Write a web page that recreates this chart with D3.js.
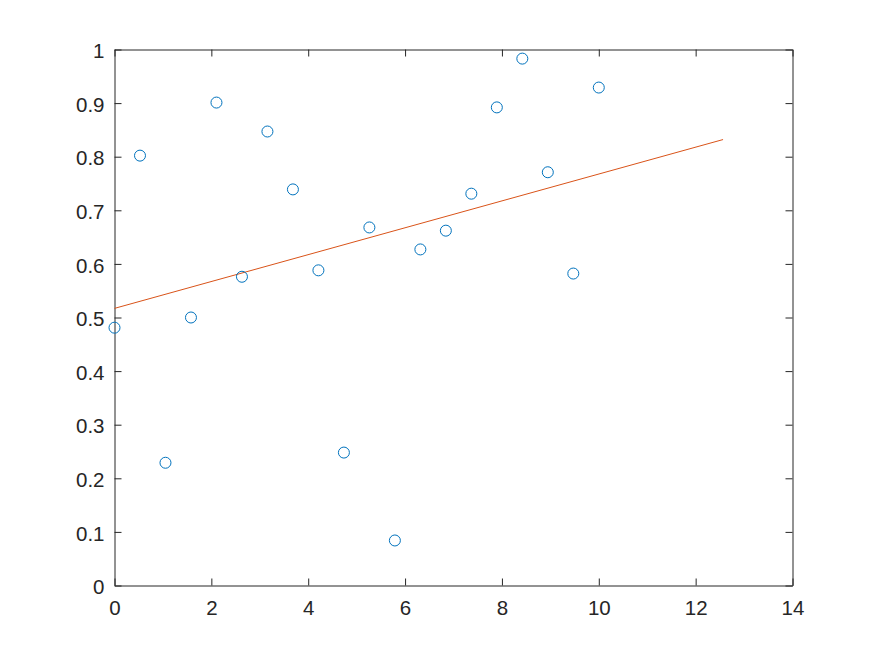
<!DOCTYPE html>
<html><head><meta charset="utf-8">
<script src="https://cdn.jsdelivr.net/npm/d3@7"></script>
<style>body{margin:0;background:#fff}svg{display:block}svg text{font-family:'Liberation Sans',Arial,sans-serif;font-size:20.5px;fill:#262626}</style>
</head><body>
<script>
const xValues = [0, 0.5263, 1.0526, 1.5789, 2.1053, 2.6316, 3.1579, 3.6842, 4.2105, 4.7368, 5.2632, 5.7895, 6.3158, 6.8421, 7.3684, 7.8947, 8.4211, 8.9474, 9.4737, 10];
const yValues = [0.481, 0.802, 0.229, 0.500, 0.901, 0.576, 0.847, 0.739, 0.588, 0.248, 0.668, 0.084, 0.627, 0.662, 0.731, 0.892, 0.983, 0.771, 0.582, 0.929];
const fitX = [0, 12.566];
const fitY = [0.517, 0.832];
const xTicks = [0, 2, 4, 6, 8, 10, 12, 14];
const yTicks = [0, 0.1, 0.2, 0.3, 0.4, 0.5, 0.6, 0.7, 0.8, 0.9, 1];

const W = 875, H = 656;
const L = 114.5, R = 792.5, T = 49.5, B = 585.5;
const svg = d3.select("body").append("svg").attr("width", W).attr("height", H);
const x = d3.scaleLinear().domain([0, 14]).range([L, R]);
const y = d3.scaleLinear().domain([0, 1]).range([B, T]);
const tickLen = 7;
const axisColor = "#262626";
const font = "Liberation Sans, Arial, sans-serif";

function styleAxis(g) {
  g.attr("font-size", 20.5).attr("font-family", font);
  g.selectAll("path").attr("stroke", axisColor).attr("stroke-width", 1);
  g.selectAll("line").attr("stroke", axisColor).attr("stroke-width", 1);
  g.selectAll("text").attr("fill", axisColor);
}
const fmt = d => String(d);
svg.append("g").attr("transform", `translate(0,${B})`)
  .call(d3.axisBottom(x).tickValues(xTicks).tickFormat(fmt).tickSizeInner(-tickLen).tickSizeOuter(0).tickPadding(14.5))
  .call(styleAxis);
svg.append("g").attr("transform", `translate(0,${T})`)
  .call(d3.axisTop(x).tickValues(xTicks).tickFormat("").tickSizeInner(-tickLen).tickSizeOuter(0))
  .call(styleAxis);
svg.append("g").attr("transform", `translate(${L},0)`)
  .call(d3.axisLeft(y).tickValues(yTicks).tickFormat(fmt).tickSizeInner(-tickLen).tickSizeOuter(0).tickPadding(10))
  .call(styleAxis)
  .call(g => g.selectAll("text").attr("dy", "0.40em"));
svg.append("g").attr("transform", `translate(${R},0)`)
  .call(d3.axisRight(y).tickValues(yTicks).tickFormat("").tickSizeInner(-tickLen).tickSizeOuter(0))
  .call(styleAxis);

// fit line
svg.append("path")
  .datum(fitX.map((v, i) => [v, fitY[i]]))
  .attr("fill", "none").attr("stroke", "#D95319").attr("stroke-width", 1)
  .attr("d", d3.line().x(d => x(d[0])).y(d => y(d[1])));

// markers
svg.append("g").selectAll("circle")
  .data(xValues.map((v, i) => [v, yValues[i]]))
  .join("circle")
  .attr("cx", d => x(d[0])).attr("cy", d => y(d[1])).attr("r", 5.5)
  .attr("fill", "none").attr("stroke", "#0072BD").attr("stroke-width", 1);
</script>
</body></html>
